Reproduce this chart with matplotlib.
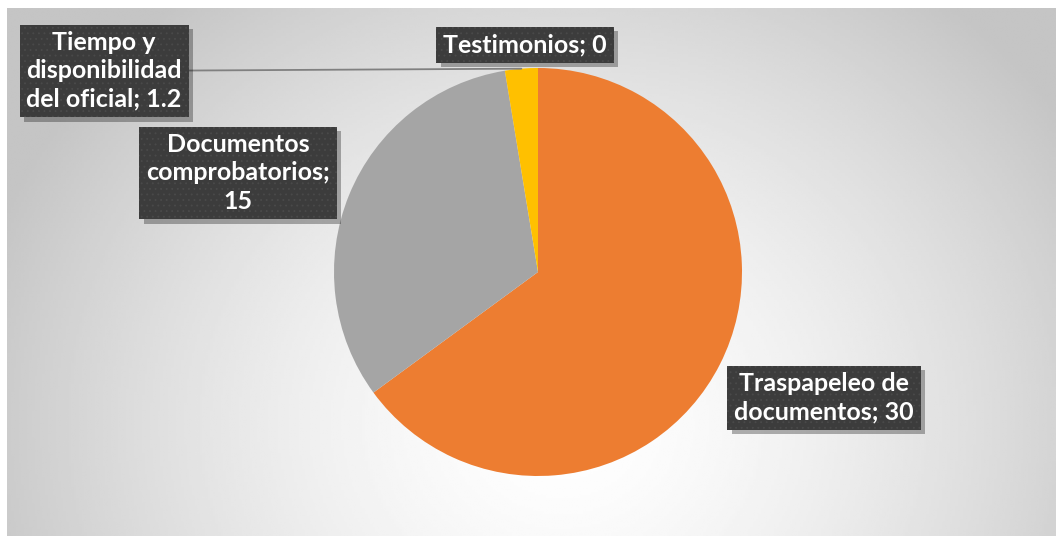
import numpy as np
import matplotlib
matplotlib.use("Agg")
import matplotlib.pyplot as plt
import matplotlib.patheffects as pe

# datos del grafico (orden de la serie en Excel)
categorias = ["Testimonios", "Traspapeleo de\ndocumentos", "Documentos\ncomprobatorios;",
              "Tiempo y\ndisponibilidad\ndel oficial"]
valores = [0, 30, 15, 1.2]
colores = ["#5B9BD5", "#ED7D31", "#A5A5A5", "#FFC000"]

W, H = 1056, 536
fig = plt.figure(figsize=(W / 100, H / 100), dpi=100)
fig.patch.set_facecolor("white")

# fondo con degradado radial
bg = fig.add_axes([7 / W, 0, (W - 7) / W, (H - 8) / H])
xx, yy = np.meshgrid(np.linspace(0, 1, 400), np.linspace(0, 1, 200))
r = np.sqrt(((xx - 0.53) / 0.53) ** 2 + ((yy - 0.21) / 0.95) ** 2)
img = np.clip(1 - 0.2 * r ** 1.5, 0.77, 1.0)
bg.imshow(img, cmap="gray", vmin=0, vmax=1, extent=[0, 1, 0, 1], aspect="auto", origin="lower")
bg.axis("off")

# pastel
cx, cy, rad = 538, 272, 204
ax = fig.add_axes([(cx - rad) / W, (H - cy - rad) / H, 2 * rad / W, 2 * rad / H])
ax.pie(valores, colors=colores, startangle=90, counterclock=False, radius=1,
       wedgeprops=dict(linewidth=0))
ax.set_xlim(-1, 1)
ax.set_ylim(-1, 1)
ax.set_aspect("auto")
ax.axis("off")


class Sombra(pe.SimplePatchShadow):
    # sombra sin la trama de puntos
    def draw_path(self, renderer, gc, tpath, affine, rgbFace):
        gc0 = renderer.new_gc()
        gc0.copy_properties(gc)
        gc0.set_hatch(None)
        super().draw_path(renderer, gc0, tpath, affine, rgbFace)
        gc0.restore()


# etiquetas de datos
def etiqueta(nombre, valor):
    v = f"{valor:g}"
    if nombre.endswith(";"):
        return f"{nombre}\n{v}"
    return f"{nombre}; {v}"

# posicion de cada etiqueta (pixeles de la figura)
pos = [(525, 45), (824, 398), (238, 173), (104, 71)]

plt.rcParams["hatch.linewidth"] = 0.6
total = sum(valores)
ang = 90
for nombre, valor, (px, py) in zip(categorias, valores, pos):
    a0 = ang
    ang -= valor / total * 360
    mid = np.deg2rad((a0 + ang) / 2)
    fx, fy = px / W, 1 - py / H
    kw = dict(ha="center", va="center", color="white", fontsize=18,
              fontweight="bold", family=["Lato", "DejaVu Sans"], linespacing=1.27,
              bbox=dict(boxstyle="square,pad=0.27", facecolor="#3c3c3c",
                        edgecolor="#4a4a4a", linewidth=0, hatch="..."))
    if nombre.startswith("Tiempo"):
        t = ax.annotate(etiqueta(nombre, valor), xy=(np.cos(mid), np.sin(mid)),
                        xycoords="data", xytext=(fx, fy), textcoords="figure fraction",
                        arrowprops=dict(arrowstyle="-", color="#808080", lw=1.3,
                                        shrinkA=0, shrinkB=0), **kw)
    else:
        t = fig.text(fx, fy, etiqueta(nombre, valor), **kw)
    t.get_bbox_patch().set_path_effects([
        Sombra(offset=(3, -3), shadow_rgbFace="black", alpha=0.3),
        pe.Normal()])

fig.savefig("out.png", dpi=100, facecolor=fig.get_facecolor())
